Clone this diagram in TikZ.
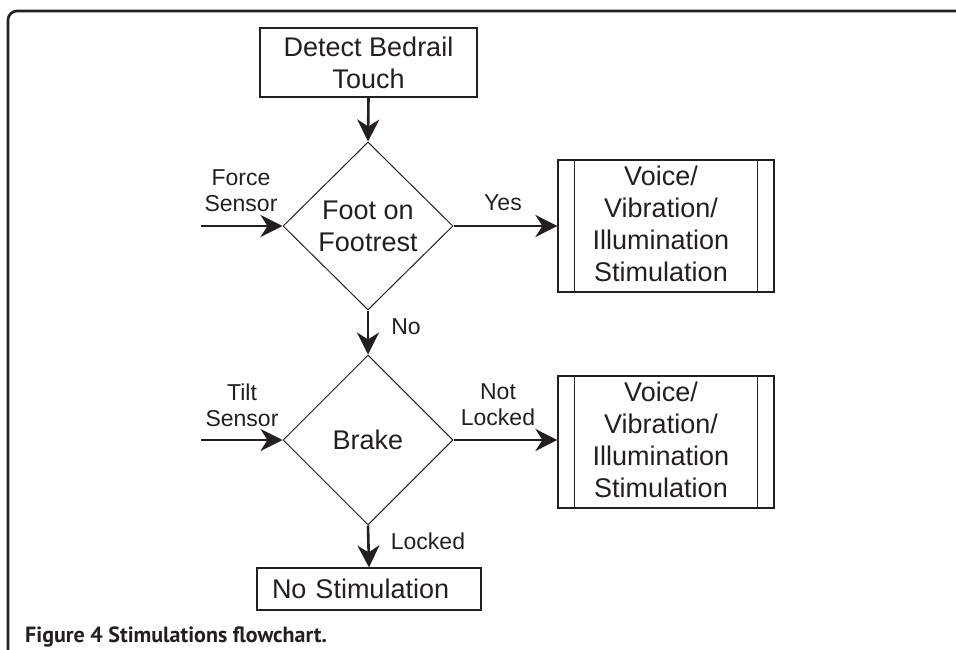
\documentclass[tikz,border=0pt]{standalone}
\usepackage{fontspec}
\setmainfont{Liberation Sans}
\newfontfamily\capfont{PT Sans}
\usetikzlibrary{shapes.geometric,arrows.meta}
\definecolor{ink}{HTML}{231F20}
\tikzset{
  big/.style={font=\fontsize{27}{32}\selectfont, text=ink, align=center},
  small/.style={font=\fontsize{23}{26}\selectfont, text=ink, align=center, inner sep=0pt},
  procbox/.style={draw=ink, line width=1.2pt, rectangle, inner sep=0pt},
  decision/.style={draw=ink, line width=1pt, diamond, inner sep=0pt, big},
  flow/.style={draw=ink, line width=2.6pt, -{Stealth[length=22pt,width=22pt,inset=7pt]}},
}
\begin{document}
\begin{tikzpicture}[x=1pt,y=-1pt]
\useasboundingbox (0,0) rectangle (956,650);
% frame
\draw[ink, line width=2.6pt, rounded corners=9pt] (8,652) -- (8,11) -- (958,11);

% nodes
\node[procbox, big, minimum width=217pt, minimum height=69pt] (detect) at (368.5,62.5) {Detect Bedrail\\Touch};
\node[decision, minimum width=170pt, minimum height=168pt] (d1) at (368,226) {Foot on\\Footrest};
\node[decision, minimum width=170pt, minimum height=170pt] (d2) at (368,440) {Brake};

\node[procbox, minimum width=216pt, minimum height=132pt] (v1) at (666,226) {};
\draw[ink, line width=1.2pt] ([xshift=17pt]v1.north west) -- ([xshift=17pt]v1.south west);
\draw[ink, line width=1.2pt] ([xshift=-17pt]v1.north east) -- ([xshift=-17pt]v1.south east);
\node[big, inner sep=0pt] (v1t) at (661,224) {Voice/\\Vibration/\\Illumination\\Stimulation};

\node[procbox, minimum width=216pt, minimum height=132pt] (v2) at (666,442) {};
\draw[ink, line width=1.2pt] ([xshift=17pt]v2.north west) -- ([xshift=17pt]v2.south west);
\draw[ink, line width=1.2pt] ([xshift=-17pt]v2.north east) -- ([xshift=-17pt]v2.south east);
\node[big, inner sep=0pt] (v2t) at (661,440) {Voice/\\Vibration/\\Illumination\\Stimulation};

\node[procbox, font=\fontsize{27}{32}\selectfont, text=ink, align=left, text width=194pt, inner xsep=15pt, minimum height=42pt] (nostim) at (369,589) {No Stimulation};

% free ends
\coordinate (fs) at (201,226);
\coordinate (ts) at (201,440);

% connectors
\draw[flow] (detect.south) -- (d1.north);
\draw[flow] (fs) -- (d1.west);
\draw[flow] (d1.east) -- (v1.west);
\draw[flow] (d1.south) -- (d2.north);
\draw[flow] (ts) -- (d2.west);
\draw[flow] (d2.east) -- (d2.east -| v2.west);
\draw[flow] (d2.south) -- (nostim.north);

% labels
\node[small] (lfs) at (241,191) {Force\\Sensor};
\node[small] (lyes) at (503,203) {Yes};
\node[small] (lno) at (406,327) {No};
\node[small] (lts) at (242,405) {Tilt\\Sensor};
\node[small] (lnl) at (498,405) {Not\\Locked};
\node[small] (llk) at (428,541) {Locked};

% caption
\node[anchor=west, inner sep=0pt, text=ink, font=\capfont\bfseries\fontsize{22}{24}\selectfont] (cap) at (25,637) {Figure 4 Stimulations flowchart.};
\end{tikzpicture}
\end{document}
